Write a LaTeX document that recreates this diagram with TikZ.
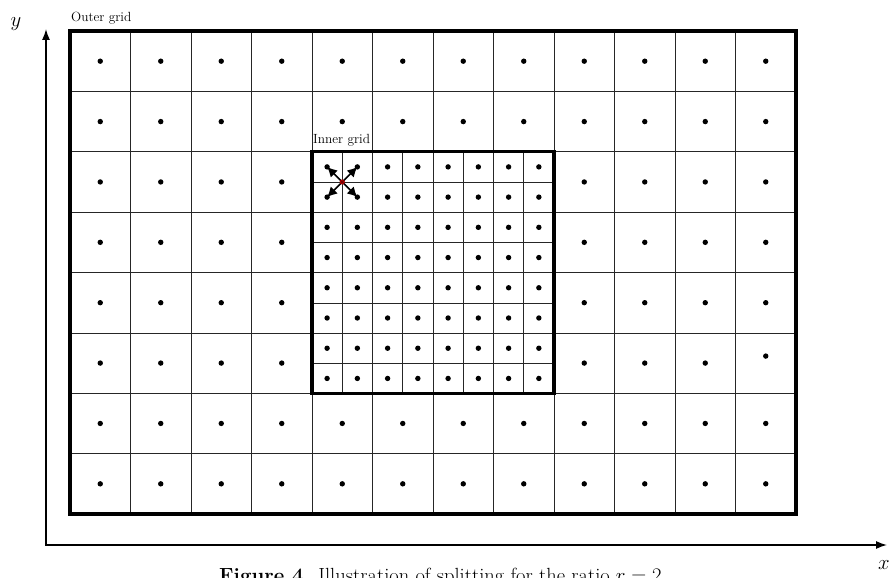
\documentclass[tikz,border=0pt]{standalone}
\usetikzlibrary{arrows.meta,calc}
\begin{document}
\begin{tikzpicture}[x=1pt,y=-1pt,
  gridline/.style={line width=0.7pt, black!85},
  frame/.style={line width=3.2pt},
  dot/.style={circle,fill=black,inner sep=0pt,minimum size=5.4pt},
  axis/.style={line width=1.4pt},
  flow/.style={line width=1.5pt,-{Latex[length=10pt,width=10pt]}},
  lbl/.style={font=\fontsize{13.3}{15}\selectfont}]
\useasboundingbox (0,0) rectangle (889,578);
% outer grid lines
\foreach \i in {1,...,11}
  \draw[gridline] ({70+\i*60.5},31) -- ({70+\i*60.5},514);
\foreach \j in {1,...,7}
  \draw[gridline] (70,{31+\j*60.375}) -- (796,{31+\j*60.375});
% inner grid lines
\foreach \i in {1,...,7}
  \draw[gridline] ({312+\i*30.25},151.75) -- ({312+\i*30.25},393.5);
\foreach \j in {1,...,7}
  \draw[gridline] (312,{151.75+\j*30.22}) -- (554,{151.75+\j*30.22});
% frames
\draw[frame] (70,31) rectangle (796,514);
\draw[frame] (312,151.75) rectangle (554,393.5);
% outer dots
\foreach \i in {0,...,11}{
  \foreach \j in {0,...,7}{
    \pgfmathsetmacro{\inner}{(\i>3 && \i<8 && \j>1 && \j<6) ? 1 : 0}
    \pgfmathsetmacro{\dy}{(\i==11 && \j==5) ? -7 : 0}
    \ifdim\inner pt<0.5pt
      \node[dot] (o-\i-\j) at ({100.25+\i*60.5},{61.2+\j*60.375+\dy}) {};
    \fi
  }
}
% inner dots
\foreach \i in {0,...,7}{
  \foreach \j in {0,...,7}{
    \node[dot] (d-\i-\j) at ({327.1+\i*30.25},{166.9+\j*30.22}) {};
  }
}
% centre point and arrows
\coordinate (c) at (342.25,181.97);
\foreach \a/\b in {0/0,1/0,0/1,1/1}
  \draw[flow] (c) -- (d-\a-\b.center);
\fill[red!70!black] (c) circle (2.6pt);
\draw[red!40!black, line width=0.5pt] ($(c)+(-1.6,-1.6)$) -- ($(c)+(1.6,1.6)$) ($(c)+(-1.6,1.6)$) -- ($(c)+(1.6,-1.6)$);
% labels
\node[lbl, anchor=base west, inner sep=0pt] (outerlbl) at (71,22) {Outer grid};
\node[lbl, anchor=base west, inner sep=0pt] (innerlbl) at (313,143) {Inner grid};
% axes
\coordinate (O) at (46,545);
\coordinate (xe) at (887,545);
\coordinate (ye) at (46,29);
\draw[axis,{Latex[length=11pt,width=8pt]}-{Latex[length=11pt,width=8pt]}] (ye) -- (O) -- (xe);
\node[font=\fontsize{20}{22}\selectfont] (ylbl) at (16,24) {$y$};
\node[font=\fontsize{20}{22}\selectfont] (xlbl) at (884,565) {$x$};
% caption
\node[anchor=base, inner sep=0pt, font=\fontsize{20.5}{23}\selectfont] (cap) at (443,582)
  {\textbf{Figure 4.} Illustration of splitting for the ratio $r=2$.};
\end{tikzpicture}
\end{document}
